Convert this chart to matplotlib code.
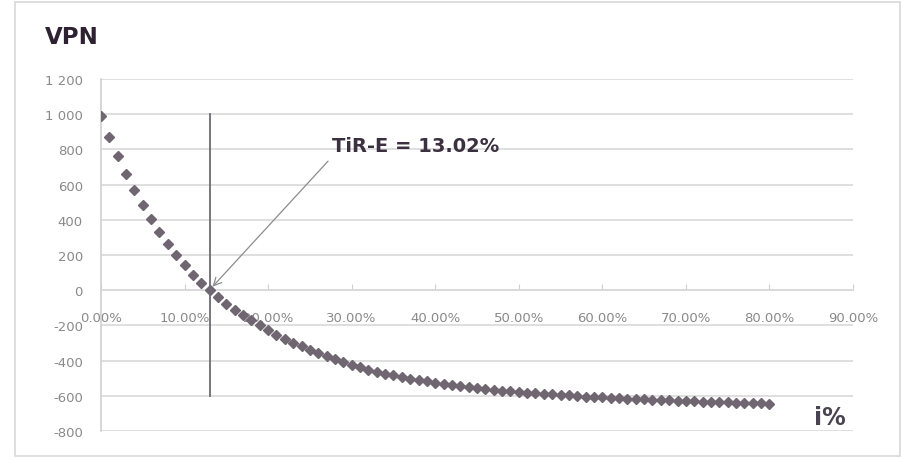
import matplotlib
matplotlib.use("Agg")
import matplotlib.pyplot as plt
from matplotlib.patches import Rectangle

# discount rate (fraction) and NPV
rates = [i / 100 for i in range(0, 81)]
npv = [
    990, 870, 762, 662, 570, 484, 405, 332, 264, 200,
    142, 88, 40, 1, -39, -76, -110, -142, -172, -200,
    -227, -252, -276, -298, -319, -339, -358, -376, -393, -409,
    -424, -438, -451, -463, -474, -484, -493, -502, -510, -518,
    -526, -533, -539, -545, -551, -556, -561, -566, -570, -574,
    -578, -582, -586, -589, -592, -595, -598, -601, -604, -606,
    -609, -611, -614, -616, -618, -620, -622, -624, -626, -628,
    -630, -631, -633, -634, -636, -637, -639, -640, -642, -643,
    -645,
]
irr = 0.1302
irr_label = "TiR-E = 13.02%"
y_ticks = [-800, -600, -400, -200, 0, 200, 400, 600, 800, 1000, 1200]
y_labels = ["-800", "-600", "-400", "-200", "0", "200", "400", "600", "800", "1 000", "1 200"]
x_ticks = [i / 10 for i in range(0, 10)]
x_labels = [f"{t * 100:.2f}%" for t in x_ticks]

fig = plt.figure(figsize=(9.03, 4.6), dpi=100)
fig.patches.append(Rectangle((15 / 903, 3 / 460), 885 / 903, 454 / 460,
                             transform=fig.transFigure, fill=False,
                             edgecolor="#d8d8d8", lw=1.2))
ax = fig.add_axes([101 / 903, 1 - 432 / 460, 752 / 903, 352 / 460])

ax.plot(rates, npv, "D", color="#6f6672", ms=5.5, mec="#6f6672", zorder=3)
ax.plot([irr, irr], [1000, -600], color="#6e6a72", lw=1.3, zorder=4)
ax.annotate("", xy=(irr + 0.001, 8), xytext=(0.274, 745),
            arrowprops=dict(arrowstyle="->", color="#8c8c8c", lw=0.9,
                            mutation_scale=14))
ax.text(0.276, 824, irr_label, fontsize=14, fontweight="semibold",
        color="#3b3040", va="center", ha="left")

ax.set_xlim(0, 0.9)
ax.set_ylim(-800, 1200)
ax.set_yticks(y_ticks)
ax.set_yticklabels(y_labels)
ax.set_xticks(x_ticks)
ax.set_xticklabels(x_labels)
ax.grid(axis="y", color="#d9d9d9", lw=1.2)
ax.set_axisbelow(True)

for side in ("top", "right", "bottom"):
    ax.spines[side].set_visible(False)
ax.spines["left"].set_color("#d0d0d0")
ax.spines["left"].set_linewidth(1.2)
ax.spines["bottom"].set_visible(True)
ax.spines["bottom"].set_position(("data", 0))
ax.spines["bottom"].set_color("#d9d9d9")
ax.spines["bottom"].set_linewidth(1.2)

ax.tick_params(axis="y", length=0, pad=13, labelsize=9.5, labelcolor="#8a8a8a")
ax.tick_params(axis="x", length=4, direction="in", color="#d0d0d0",
               pad=15, labelsize=9.5, labelcolor="#8a8a8a")

fig.text(45 / 903, 1 - 38 / 460, "VPN", fontsize=16.5, fontweight="bold",
         color="#2e2232", va="center", ha="left")
fig.text(814 / 903, 1 - 418 / 460, "i%", fontsize=17, fontweight="bold",
         color="#4a4350", va="center", ha="left")

fig.savefig("out.png", dpi=100)
